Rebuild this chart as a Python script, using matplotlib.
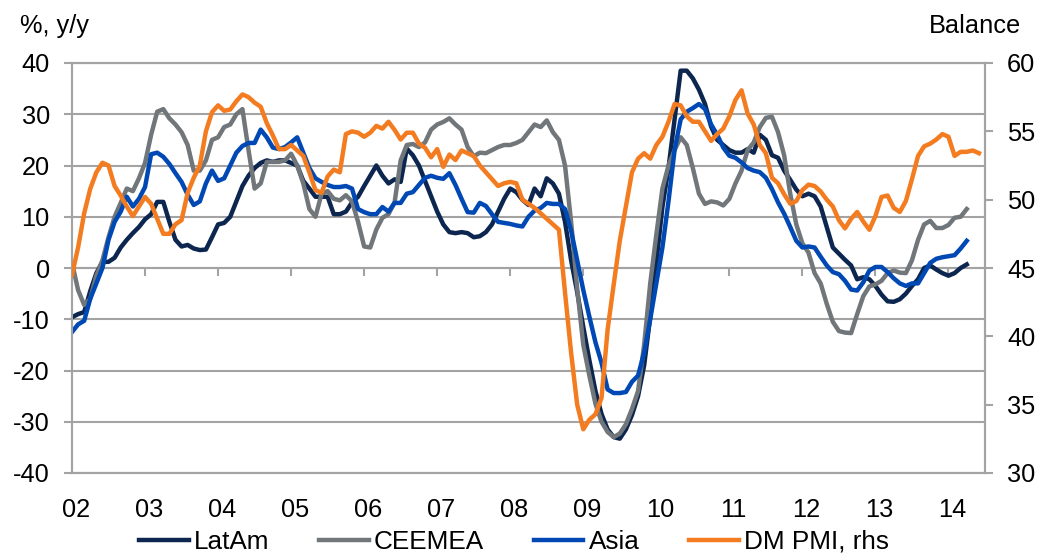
import numpy as np
import matplotlib
matplotlib.use('Agg')
import matplotlib.pyplot as plt
from matplotlib.lines import Line2D

plt.rcParams['font.family'] = ['Liberation Sans', 'DejaVu Sans']

# ---- data (monthly, Jan 2002 onwards) ----
year_labels = ['02', '03', '04', '05', '06', '07', '08', '09', '10', '11', '12', '13', '14']

latam = [-9.6, -9, -8.6, -4.5, -1, 1.2, 1.2, 2, 4, 5.5,
         6.8, 8, 9.5, 10.5, 12.9, 12.9, 9, 5.5, 4.2, 4.5,
         3.8, 3.5, 3.6, 6, 8.5, 8.8, 10, 13, 16, 18,
         19.5, 20.5, 21, 20.7, 21, 21, 20.5, 20, 17, 15.5,
         13.9, 13.9, 13.9, 10.5, 10.5, 11, 12.8, 13.9, 16, 18,
         20, 18, 16.5, 17.3, 16.8, 23.3, 22, 20, 17, 14,
         11, 8.5, 7, 6.8, 7, 6.8, 6, 6.2, 7, 8.5,
         11, 13.5, 15.5, 14.8, 13.3, 12.3, 15.5, 14, 17.5, 16.5,
         14.5, 9, 1.5, -4.7, -11.5, -18, -24, -28.5, -31.5, -33,
         -33.3, -31.5, -28.7, -25, -19, -9.5, 1, 11.9, 19.5, 29,
         38.5, 38.5, 37, 34.8, 32, 27.6, 25, 24, 23, 22.5,
         22.5, 23.2, 22.5, 26, 25, 22, 21.5, 19, 17.2, 15.3,
         14, 14.5, 14, 12, 8, 4, 2.8, 1.6, 0.5, -2.2,
         -1.8, -2.2, -3.5, -5.2, -6.5, -6.6, -6.1, -5, -3.5, -2.2,
         0, 0.5, -0.3, -1, -1.5, -1, 0, 0.7]

ceemea = [1, -4.3, -7.2, -6, -1.5, 1.5, 6, 10, 12.7, 15.5,
          15, 17.5, 20.5, 26, 30.5, 31, 29.2, 28, 26.5, 24,
          19, 19, 21, 25, 25.5, 27.5, 28, 30, 31, 23,
          15.5, 16.5, 20.7, 20.7, 20.7, 21, 22.3, 20, 16.5, 11.5,
          10, 14.5, 15, 13.5, 13.2, 14.2, 13, 9, 4.2, 4,
          7.5, 9.8, 10.5, 12.8, 21, 24, 24.2, 23.6, 24.5, 27,
          28, 28.5, 29.2, 28, 27, 23.6, 21.8, 22.5, 22.4, 23,
          23.6, 24, 24, 24.4, 25, 26.5, 28, 27.5, 28.8, 26.5,
          25, 20, 9, -4, -15, -21, -26.5, -30, -32, -33,
          -32.3, -30.5, -27.5, -24, -15, -3, 6.5, 15.5, 20, 23,
          25.5, 24, 19.5, 14.5, 12.5, 13, 12.8, 12.2, 13.5, 16.5,
          19, 23, 24.5, 27.5, 29.3, 29.5, 26.5, 22, 14.5, 8.5,
          4.8, 3, -1, -3, -7, -10.5, -12.3, -12.6, -12.7, -9,
          -5.5, -3.6, -3.2, -2.5, -1, -0.5, -0.9, -1, 1.5, 5.5,
          8.5, 9.2, 7.8, 7.8, 8.4, 9.8, 10, 11.5]

asia = [-12.5, -11, -10.3, -6, -3, 0, 5.5, 9, 11, 13.9,
        12, 13.5, 15.8, 22.2, 22.5, 21.7, 20.3, 18.5, 16.8, 14.3,
        12.3, 13, 16.5, 19, 17, 17.5, 20, 22.5, 23.8, 24.4,
        24.4, 27, 25.5, 23.5, 23.2, 23.6, 24.5, 25.5, 22.5, 19.5,
        17.5, 16.8, 16.2, 15.8, 15.8, 16, 15.5, 11.5, 10.9, 10.5,
        10.5, 11.9, 11, 12.7, 12.7, 14.5, 14.8, 16.2, 17.6, 18,
        17.6, 17.4, 18.5, 16.2, 13.5, 10.9, 10.8, 12.7, 12.1, 10.5,
        9, 8.8, 8.6, 8.3, 8.1, 10, 11.2, 11.7, 12.7, 12.5,
        12.5, 11.5, 7.3, 1.5, -4.3, -9.5, -14.5, -18.5, -23.7, -24.4,
        -24.4, -24.2, -22.2, -21, -16.5, -10, -3, 4, 13, 23,
        29, 30.5, 31.2, 32, 31, 28, 26, 23.5, 21.9, 21.5,
        20.6, 19.5, 19, 18.7, 17.6, 15.4, 12.8, 10.6, 8, 5.3,
        4, 4.2, 4, 2.2, 0.5, -0.8, -1.2, -2.5, -4.2, -4.4,
        -2.8, -0.5, 0.2, 0.2, -0.8, -2, -3, -3.5, -3, -3,
        -1, 1, 1.8, 2.1, 2.3, 2.5, 3.8, 5.3]

dm_pmi = [44.5, 46.5, 49, 50.8, 52, 52.7, 52.5, 51, 50.3, 49.5,
          48.8, 49.5, 50.2, 49.7, 48.6, 47.5, 47.5, 48.2, 48.5, 50.5,
          51.6, 52.5, 55, 56.4, 56.9, 56.5, 56.6, 57.2, 57.7, 57.5,
          57.1, 56.8, 55.6, 54.7, 53.7, 53.7, 54, 53.6, 53.2, 52,
          50.7, 50.5, 51.7, 52.2, 52, 54.8, 55, 54.9, 54.6, 54.9,
          55.4, 55.2, 55.7, 55.1, 54.4, 54.9, 54.9, 54.1, 53.8, 53.1,
          53.7, 52.4, 53.3, 52.9, 53.6, 53.4, 53.2, 52.5, 52, 51.5,
          51, 51.2, 51.3, 51.2, 50, 49.7, 49.4, 49, 48.6, 48.2,
          47.8, 43.2, 38.8, 35, 33.2, 33.9, 34.3, 35.5, 40.5, 43.8,
          47, 49.5, 52, 53, 53.4, 53, 54, 54.6, 55.7, 57,
          56.9, 56.1, 55.7, 55.7, 55, 54.3, 54.8, 55.2, 56.1, 57.3,
          58, 56.3, 55.5, 54, 53.4, 51.6, 51.2, 50.4, 49.7, 49.9,
          50.7, 51.1, 51, 50.6, 50, 49.5, 48.5, 47.9, 48.6, 49.1,
          48.4, 47.8, 48.8, 50.2, 50.3, 49.4, 49.1, 49.9, 51.5, 53.2,
          53.9, 54.1, 54.4, 54.8, 54.6, 53.2, 53.5, 53.5, 53.6, 53.4]

# ---- styles ----
C_LATAM = '#0c2650'
C_CEE = '#70767a'
C_ASIA = '#0049b5'
C_DM = '#f47c20'
C_GRID = '#a3a3a3'
FS = 18.3
LW = 3.2

fig = plt.figure(figsize=(10.41, 5.55), dpi=100)
ax = fig.add_axes([72 / 1041, 82 / 555, 913 / 1041, 410 / 555])
ax2 = ax.twinx()

ax.plot(np.arange(len(latam)), latam, color=C_LATAM, lw=LW, solid_joinstyle='round', zorder=3)
ax.plot(np.arange(len(ceemea)), ceemea, color=C_CEE, lw=LW, solid_joinstyle='round', zorder=3)
ax.plot(np.arange(len(asia)), asia, color=C_ASIA, lw=LW, solid_joinstyle='round', zorder=4)
ax2.plot(np.arange(len(dm_pmi)), dm_pmi, color=C_DM, lw=LW, solid_joinstyle='round', zorder=5)

n_months = 150
ax.set_xlim(0, n_months)
ax.set_ylim(-40, 40)
ax2.set_ylim(30, 60)

ax.set_yticks(np.arange(-40, 41, 10))
ax.set_yticklabels([str(v) for v in range(-40, 41, 10)])
ax2.set_yticks(np.arange(30, 61, 5))
ax.yaxis.grid(True, color=C_GRID, lw=1.5)
ax.set_axisbelow(True)

# x labels at the start of each year
ax.set_xticks([12 * i + 0.6 for i in range(len(year_labels))])
ax.set_xticklabels(year_labels)
ax.tick_params(axis='x', length=0, pad=18, labelsize=FS)
ax.tick_params(axis='y', direction='out', length=6, width=1.5, color=C_GRID, pad=10, labelsize=FS)
ax2.tick_params(axis='y', direction='out', length=6, width=1.5, color=C_GRID, pad=10, labelsize=FS)

for a in (ax, ax2):
    for s in a.spines.values():
        s.set_color(C_GRID)
        s.set_linewidth(1.5)

# zero line with year-boundary tick marks
sec = ax.secondary_xaxis(0.5)
sec.set_alignment('bottom')
sec.set_xticks([12 * i for i in range(1, len(year_labels) + 1)])
sec.set_xticklabels([])
sec.tick_params(axis='x', direction='out', length=6, width=1.5, color=C_GRID)
for s in sec.spines.values():
    s.set_color(C_GRID)
    s.set_linewidth(1.5)

fig.text(20 / 1041, 1 - 26 / 555, '%, y/y', fontsize=FS, va='center', ha='left')
fig.text(1021 / 1041, 1 - 26 / 555, 'Balance', fontsize=FS, va='center', ha='right')

handles = [Line2D([], [], color=C_LATAM, lw=LW),
           Line2D([], [], color=C_CEE, lw=LW),
           Line2D([], [], color=C_ASIA, lw=LW),
           Line2D([], [], color=C_DM, lw=LW)]
fig.legend(handles, ['LatAm', 'CEEMEA', 'Asia', 'DM PMI, rhs'], loc='center',
           bbox_to_anchor=(514 / 1041, 13 / 555), ncol=4, frameon=False,
           fontsize=FS + 0.5, handlelength=1.9, handletextpad=0.2, columnspacing=1.9,
           borderpad=0.1)

fig.savefig('out.png', dpi=100)
